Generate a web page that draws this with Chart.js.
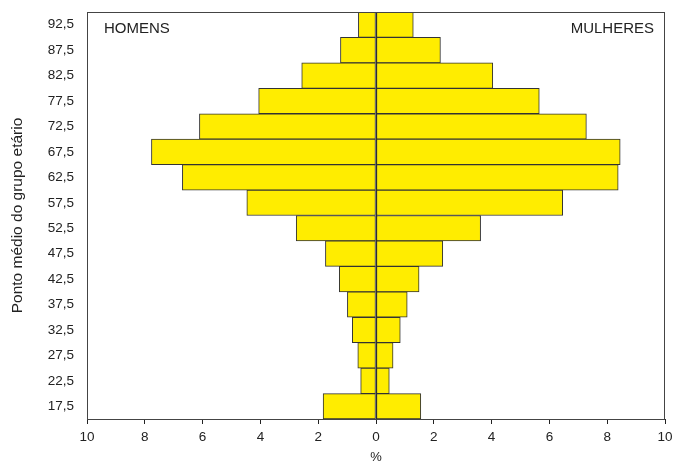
<!DOCTYPE html>
<html>
<head>
<meta charset="utf-8">
<script src="https://cdn.jsdelivr.net/npm/chart.js@4"></script>
<style>
  html, body { margin: 0; padding: 0; background: #fff; }
  #wrap { width: 673px; height: 461px; }
</style>
</head>
<body>
<div id="wrap"><canvas id="c" width="673" height="461"></canvas></div>
<script>
// pirâmide etária — homens à esquerda (negativos), mulheres à direita
const ageGroups = ['92,5','87,5','82,5','77,5','72,5','67,5','62,5','57,5',
                   '52,5','47,5','42,5','37,5','32,5','27,5','22,5','17,5'];
const men   = [0.61, 1.23, 2.57, 4.06, 6.11, 7.77, 6.70, 4.47,
               2.76, 1.75, 1.27, 0.99, 0.82, 0.63, 0.53, 1.83];
const women = [1.29, 2.23, 4.04, 5.65, 7.28, 8.45, 8.38, 6.46,
               3.62, 2.31, 1.49, 1.08, 0.84, 0.59, 0.46, 1.55];
const xTicks = [-10, -8, -6, -4, -2, 0, 2, 4, 6, 8, 10];

const FONT = 'Liberation Sans, Arial, sans-serif';
const INK = '#222';
const YELLOW = '#FFED00';

const frame = {
  id: 'frame',
  afterDatasetsDraw(chart) {
    const { ctx, chartArea: a } = chart;
    ctx.save();
    ctx.strokeStyle = '#444';
    ctx.lineWidth = 1;
    ctx.strokeRect(a.left + 0.5, a.top + 0.5, a.right - a.left - 1, a.bottom - a.top);
    ctx.fillStyle = INK;
    ctx.font = '15px ' + FONT;
    ctx.textBaseline = 'middle';
    ctx.textAlign = 'left';
    ctx.fillText('HOMENS', a.left + 17, a.top + 17);
    ctx.textAlign = 'right';
    ctx.fillText('MULHERES', a.right - 11, a.top + 17);
    ctx.restore();
  }
};

const barStyle = {
  backgroundColor: YELLOW,
  borderColor: '#333',
  borderWidth: 1,
  borderSkipped: false,
  categoryPercentage: 1,
  barPercentage: 1
};

new Chart(document.getElementById('c').getContext('2d'), {
  type: 'bar',
  data: {
    labels: ageGroups,
    datasets: [
      { label: 'Homens', data: men.map(v => -v), ...barStyle },
      { label: 'Mulheres', data: women, ...barStyle }
    ]
  },
  options: {
    indexAxis: 'y',
    responsive: false,
    animation: false,
    layout: { padding: { top: 12, right: 8, left: 8, bottom: 0 } },
    plugins: { legend: { display: false }, tooltip: { enabled: false } },
    scales: {
      x: {
        stacked: true,
        min: -10, max: 10,
        afterBuildTicks: s => { s.ticks = xTicks.map(v => ({ value: v })); },
        afterFit: s => { s.height = 42; s.paddingLeft = 0; s.paddingRight = 0; },
        ticks: {
          callback: v => Math.abs(v),
          color: INK, font: { family: FONT, size: 13.5 }, padding: 5
        },
        grid: {
          color: c => c.tick && c.tick.value === 0 ? '#222' : 'transparent',
          tickColor: '#222', tickLength: 5, drawOnChartArea: true
        },
        border: { color: '#222' },
        title: {
          display: true, text: '%', color: INK,
          font: { family: FONT, size: 13 }, padding: { top: 0, bottom: -4 }
        }
      },
      y: {
        stacked: true,
        afterFit: s => { s.width = 79; s.paddingTop = 0; s.paddingBottom = 0; },
        ticks: { color: INK, font: { family: FONT, size: 13.5 }, padding: 13 },
        grid: { display: false, drawTicks: false },
        border: { color: '#222' },
        title: {
          display: true, text: 'Ponto médio do grupo etário', color: INK,
          font: { family: FONT, size: 15.5 }, padding: 0
        }
      }
    }
  },
  plugins: [frame]
});
</script>
</body>
</html>
